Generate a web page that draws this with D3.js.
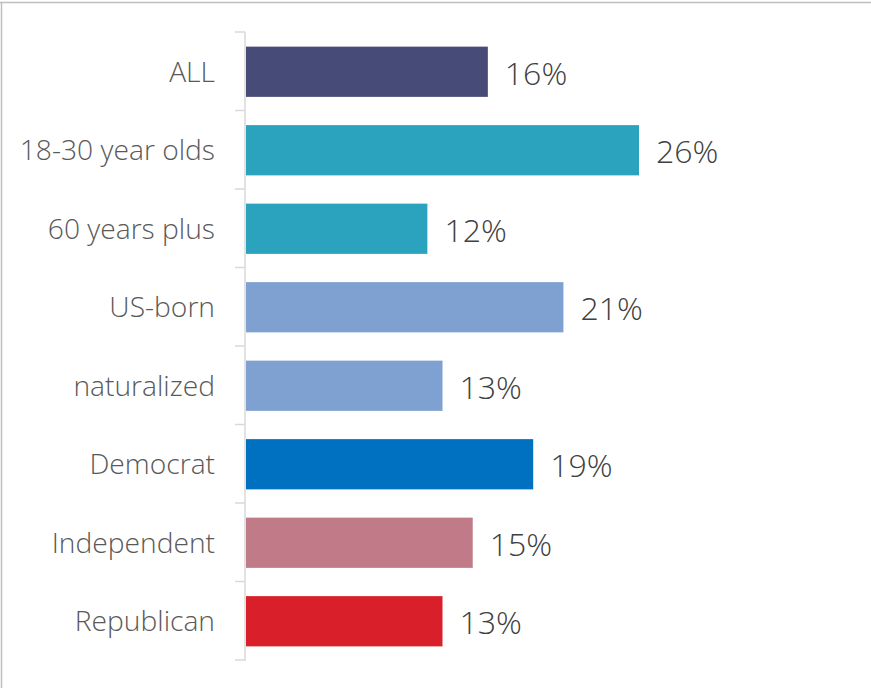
<!DOCTYPE html>
<html>
<head>
<meta charset="utf-8">
<script src="https://cdn.jsdelivr.net/npm/d3@7/dist/d3.min.js"></script>
<style>
  html, body { margin: 0; padding: 0; background: #fff; }
  svg { display: block; }
</style>
</head>
<body>
<svg id="chart" width="871" height="688"></svg>
<script>
const categories = ["ALL", "18-30 year olds", "60 years plus", "US-born", "naturalized", "Democrat", "Independent", "Republican"];
const values = [16, 26, 12, 21, 13, 19, 15, 13];
const colors = ["#474b78", "#2ba3bf", "#2ba3bf", "#7fa1d1", "#7fa1d1", "#0070c0", "#c17a88", "#d9202a"];

const svg = d3.select("#chart");
const W = 871, H = 688;

// frame
svg.append("line").attr("x1", 0).attr("x2", W).attr("y1", 2.5).attr("y2", 2.5)
  .attr("stroke", "#bfbfbf").attr("stroke-width", 1.5);
svg.append("line").attr("x1", 1.5).attr("x2", 1.5).attr("y1", 2).attr("y2", H)
  .attr("stroke", "#bfbfbf").attr("stroke-width", 1.5);

const x0 = 246;
const x = d3.scaleLinear().domain([0, 26]).range([x0, 639]);
const y = d3.scaleBand().domain(categories).range([32.5, 660.5]).paddingInner(0.36).paddingOuter(0.18);

// bars
svg.append("g").selectAll("rect").data(categories).join("rect")
  .attr("x", x(0))
  .attr("y", d => y(d))
  .attr("width", (d, i) => x(values[i]) - x(0))
  .attr("height", y.bandwidth())
  .attr("fill", (d, i) => colors[i]);

// axis
const axis = d3.axisLeft(y).tickSize(0).tickPadding(30);
const gAxis = svg.append("g").attr("transform", `translate(${x0 - 1},0)`).call(axis);
gAxis.select(".domain").remove();
gAxis.selectAll("text")
  .attr("font-family", "'Open Sans', sans-serif")
  .attr("font-weight", 300)
  .attr("font-size", 28.2)
  .attr("fill", "#595959")
  .attr("dy", "0.35em");

// axis line with category separators
const bounds = d3.range(categories.length + 1).map(i => 32 + i * (628 / categories.length));
svg.append("line").attr("x1", x0 - 1).attr("x2", x0 - 1).attr("y1", 32).attr("y2", 661)
  .attr("stroke", "#d9d9d9").attr("stroke-width", 1.5);
svg.append("g").selectAll("line").data(bounds).join("line")
  .attr("x1", x0 - 11).attr("x2", x0 - 1)
  .attr("y1", d => d).attr("y2", d => d)
  .attr("stroke", "#d9d9d9").attr("stroke-width", 1.5);

// value labels
svg.append("g").selectAll("text").data(categories).join("text")
  .attr("x", (d, i) => x(values[i]) + 17)
  .attr("y", d => y(d) + y.bandwidth() / 2)
  .attr("dy", "0.4em")
  .attr("font-family", "'Open Sans', sans-serif")
  .attr("font-weight", 300)
  .attr("font-size", 32)
  .attr("fill", "#404040")
  .text((d, i) => values[i] + "%");
</script>
</body>
</html>
